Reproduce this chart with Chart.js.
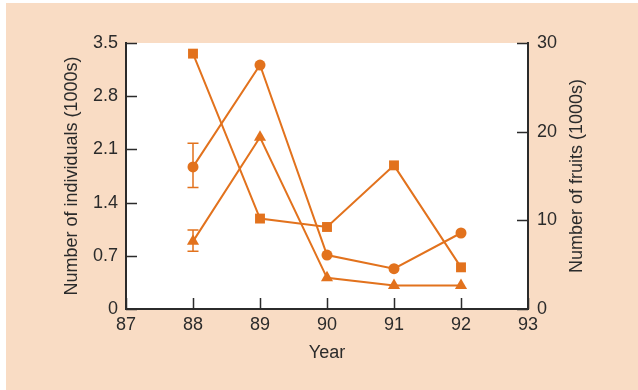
<!DOCTYPE html>
<html>
<head>
<meta charset="utf-8">
<script src="https://cdn.jsdelivr.net/npm/chart.js@4"></script>
<style>
  html, body { margin: 0; padding: 0; background: #fff; }
  #wrap { width: 638px; height: 390px; }
</style>
</head>
<body>
<div id="wrap"><canvas id="myChart" width="638" height="390"></canvas></div>
<script>
// data
const years = [88, 89, 90, 91, 92];
const circles = [1.87, 3.21, 0.71, 0.53, 1.0];        // left axis (1000s)
const squares = [28.8, 10.2, 9.25, 16.2, 4.7];        // fruits, right axis (1000s)
const triangles = [0.89, 2.26, 0.41, 0.31, 0.31];     // left axis (1000s)
const circleErr = [[88, 1.6, 2.18]];                  // [year, low, high]
const triangleErr = [[88, 0.76, 1.04]];
const leftTicks = [0, 0.7, 1.4, 2.1, 2.8, 3.5];
const rightTicks = [0, 10, 20, 30];
const xTicks = [87, 88, 89, 90, 91, 92, 93];

const orange = '#e2721d';
const peach = '#f9dcc4';
const dark = '#2b2b2b';
const fam = 'Liberation Sans, Arial, sans-serif';
const font = { family: fam, size: 18 };

const toPts = (xs, ys) => xs.map((x, i) => ({ x: x, y: ys[i] }));

const backgroundPlugin = {
    id: 'bg',
    beforeDraw: (chart) => {
        const { ctx, chartArea } = chart;
        ctx.save();
        ctx.fillStyle = '#ffffff';
        ctx.fillRect(0, 0, chart.width, chart.height);
        ctx.fillStyle = peach;
        ctx.fillRect(6, 3, chart.width - 6, chart.height - 3);
        ctx.fillStyle = '#ffffff';
        ctx.fillRect(chartArea.left, chartArea.top, chartArea.right - chartArea.left, chartArea.bottom - chartArea.top);
        ctx.restore();
    }
};

// inward ticks, error bars, axis titles
const extrasPlugin = {
    id: 'extras',
    afterDatasetsDraw: (chart) => {
        const { ctx } = chart;
        const x = chart.scales.x, y = chart.scales.y;
        ctx.save();
        ctx.strokeStyle = orange;
        ctx.lineWidth = 1.5;
        circleErr.concat(triangleErr).forEach(e => {
            const px = x.getPixelForValue(e[0]);
            const lo = y.getPixelForValue(e[1]);
            const hi = y.getPixelForValue(e[2]);
            ctx.beginPath();
            ctx.moveTo(px, lo); ctx.lineTo(px, hi);
            ctx.moveTo(px - 5.5, lo); ctx.lineTo(px + 5.5, lo);
            ctx.moveTo(px - 5.5, hi); ctx.lineTo(px + 5.5, hi);
            ctx.stroke();
        });
        ctx.restore();
    },
    afterDraw: (chart) => {
        const { ctx, chartArea } = chart;
        const x = chart.scales.x, y = chart.scales.y, y2 = chart.scales.y2;
        ctx.save();
        ctx.strokeStyle = dark;
        ctx.lineWidth = 1.5;
        ctx.beginPath();
        leftTicks.forEach(v => {
            const py = Math.round(y.getPixelForValue(v)) + 0.5;
            ctx.moveTo(chartArea.left, py); ctx.lineTo(chartArea.left + 11, py);
        });
        rightTicks.forEach(v => {
            const py = Math.round(y2.getPixelForValue(v)) + 0.5;
            ctx.moveTo(chartArea.right, py); ctx.lineTo(chartArea.right - 11, py);
        });
        xTicks.forEach(v => {
            const px = Math.round(x.getPixelForValue(v)) + 0.5;
            ctx.moveTo(px, chartArea.bottom); ctx.lineTo(px, chartArea.bottom - 11);
        });
        ctx.stroke();

        ctx.fillStyle = dark;
        ctx.font = '18px ' + fam;
        ctx.textAlign = 'center';
        ctx.textBaseline = 'middle';
        ctx.fillText('Year', (chartArea.left + chartArea.right) / 2, 353);
        ctx.translate(72, 176);
        ctx.rotate(-Math.PI / 2);
        ctx.fillText('Number of individuals (1000s)', 0, 0);
        ctx.restore();
        ctx.save();
        ctx.fillStyle = dark;
        ctx.font = '18px ' + fam;
        ctx.textAlign = 'center';
        ctx.textBaseline = 'middle';
        ctx.translate(577, 176);
        ctx.rotate(-Math.PI / 2);
        ctx.fillText('Number of fruits (1000s)', 0, 0);
        ctx.restore();
    }
};

const lineSet = (label, data, style, axis, radius) => ({
    label: label,
    data: data,
    yAxisID: axis,
    borderColor: orange,
    backgroundColor: orange,
    borderWidth: 2,
    pointStyle: style,
    pointRadius: radius,
    pointBorderWidth: 0,
    tension: 0
});

new Chart(document.getElementById('myChart'), {
    type: 'line',
    data: {
        datasets: [
            lineSet('circles', toPts(years, circles), 'circle', 'y', 5.5),
            lineSet('squares', toPts(years, squares), 'rect', 'y2', 7),
            lineSet('triangles', toPts(years, triangles), 'triangle', 'y', 7)
        ]
    },
    options: {
        responsive: false,
        animation: false,
        layout: { padding: { top: 43, left: 0, right: 0, bottom: 0 } },
        plugins: { legend: { display: false }, tooltip: { enabled: false } },
        scales: {
            x: {
                type: 'linear',
                min: 87, max: 93,
                afterBuildTicks: (s) => { s.ticks = xTicks.map(v => ({ value: v })); },
                afterFit: (s) => { s.height = 81; },
                ticks: { color: dark, font: font, padding: 5, maxRotation: 0, autoSkip: false },
                grid: { drawOnChartArea: false, drawTicks: false },
                border: { color: dark, width: 2 }
            },
            y: {
                position: 'left',
                min: 0, max: 3.5,
                afterBuildTicks: (s) => { s.ticks = leftTicks.map(v => ({ value: v })); },
                afterFit: (s) => { s.width = 126; },
                ticks: { color: dark, font: font, padding: 8, callback: (v) => v === 0 ? '0' : v.toFixed(1) },
                grid: { drawOnChartArea: false, drawTicks: false },
                border: { color: dark, width: 2 }
            },
            y2: {
                position: 'right',
                min: 0, max: 30,
                afterBuildTicks: (s) => { s.ticks = rightTicks.map(v => ({ value: v })); },
                afterFit: (s) => { s.width = 110; },
                ticks: { color: dark, font: font, padding: 9 },
                grid: { drawOnChartArea: false, drawTicks: false },
                border: { color: dark, width: 2 }
            }
        }
    },
    plugins: [backgroundPlugin, extrasPlugin]
});
</script>
</body>
</html>
